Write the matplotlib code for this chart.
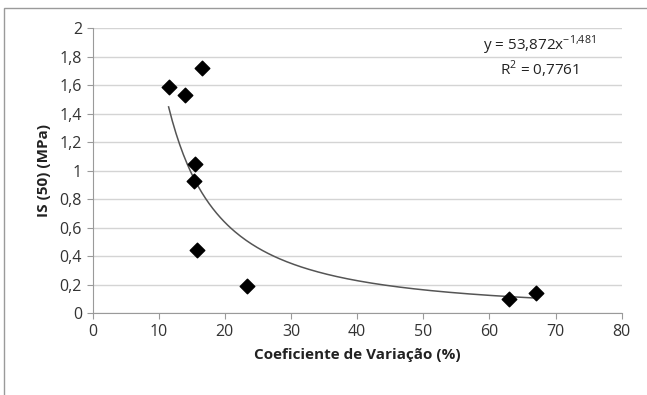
import numpy as np
import matplotlib.pyplot as plt
from matplotlib.patches import Rectangle
from matplotlib.ticker import FuncFormatter

plt.rcParams['font.family'] = ['Open Sans', 'DejaVu Sans']
plt.rcParams['mathtext.fontset'] = 'custom'
plt.rcParams['mathtext.rm'] = 'Open Sans'

# ── Data ─────────────────────────────────────────────────────────────────
cv   = [11.5, 14.0, 16.5, 15.5, 15.3, 15.8, 23.3, 63.0, 67.0]   # %
is50 = [1.59, 1.53, 1.72, 1.05, 0.93, 0.44, 0.19, 0.10, 0.14]   # MPa

# power trendline shown on the chart: y = a * x^b
coef_a, coef_b = 53.872, -1.481
fit_range = (11.5, 67.0)

x_ticks = [0, 10, 20, 30, 40, 50, 60, 70, 80]
y_ticks = [0, 0.2, 0.4, 0.6, 0.8, 1.0, 1.2, 1.4, 1.6, 1.8, 2.0]

fig = plt.figure(figsize=(6.47, 3.95), dpi=100)
ax = fig.add_axes([0.143, 0.207, 0.818, 0.722])

# chart border (only top and left edges are inside the picture)
fig.patches.append(Rectangle((0.006, -0.05), 1.5, 1.03, transform=fig.transFigure,
                             fill=False, edgecolor='#9a9a9a', linewidth=1.0))

xs = np.linspace(*fit_range, 200)
ax.plot(xs, coef_a * xs ** coef_b, color='#555555', linewidth=1.1, zorder=2)
ax.scatter(cv, is50, marker='D', s=55, color='black', zorder=3)

ax.set_xlim(0, 80)
ax.set_ylim(0, 2)
ax.set_xticks(x_ticks)
ax.set_yticks(y_ticks)
comma = FuncFormatter(lambda v, p: f'{v:g}'.replace('.', ','))
ax.yaxis.set_major_formatter(comma)
ax.xaxis.set_major_formatter(comma)
ax.grid(axis='y', color='#d4d4d4', linewidth=1.0)
ax.set_axisbelow(True)

for s in ['top', 'right']:
    ax.spines[s].set_visible(False)
for s in ['left', 'bottom']:
    ax.spines[s].set_color('#9a9a9a')
ax.tick_params(axis='both', colors='#9a9a9a', labelcolor='#333333',
               labelsize=11.5, length=4, direction='out')

ax.set_xlabel('Coeficiente de Variação (%)', fontsize=11, fontweight='bold',
              color='#222222', labelpad=6)
ax.set_ylabel('IS (50) (MPa)', fontsize=11, fontweight='bold',
              color='#222222', labelpad=6)

ax.text(0.845, 0.94, r'y = 53,872x$^{\mathregular{-1{,}481}}$',
        transform=ax.transAxes, ha='center', va='center', fontsize=11, color='#222222')
ax.text(0.845, 0.855, r'R$^{\mathregular{2}}$ = 0,7761', transform=ax.transAxes,
        ha='center', va='center', fontsize=11, color='#222222')

plt.savefig('out.png', dpi=100)
